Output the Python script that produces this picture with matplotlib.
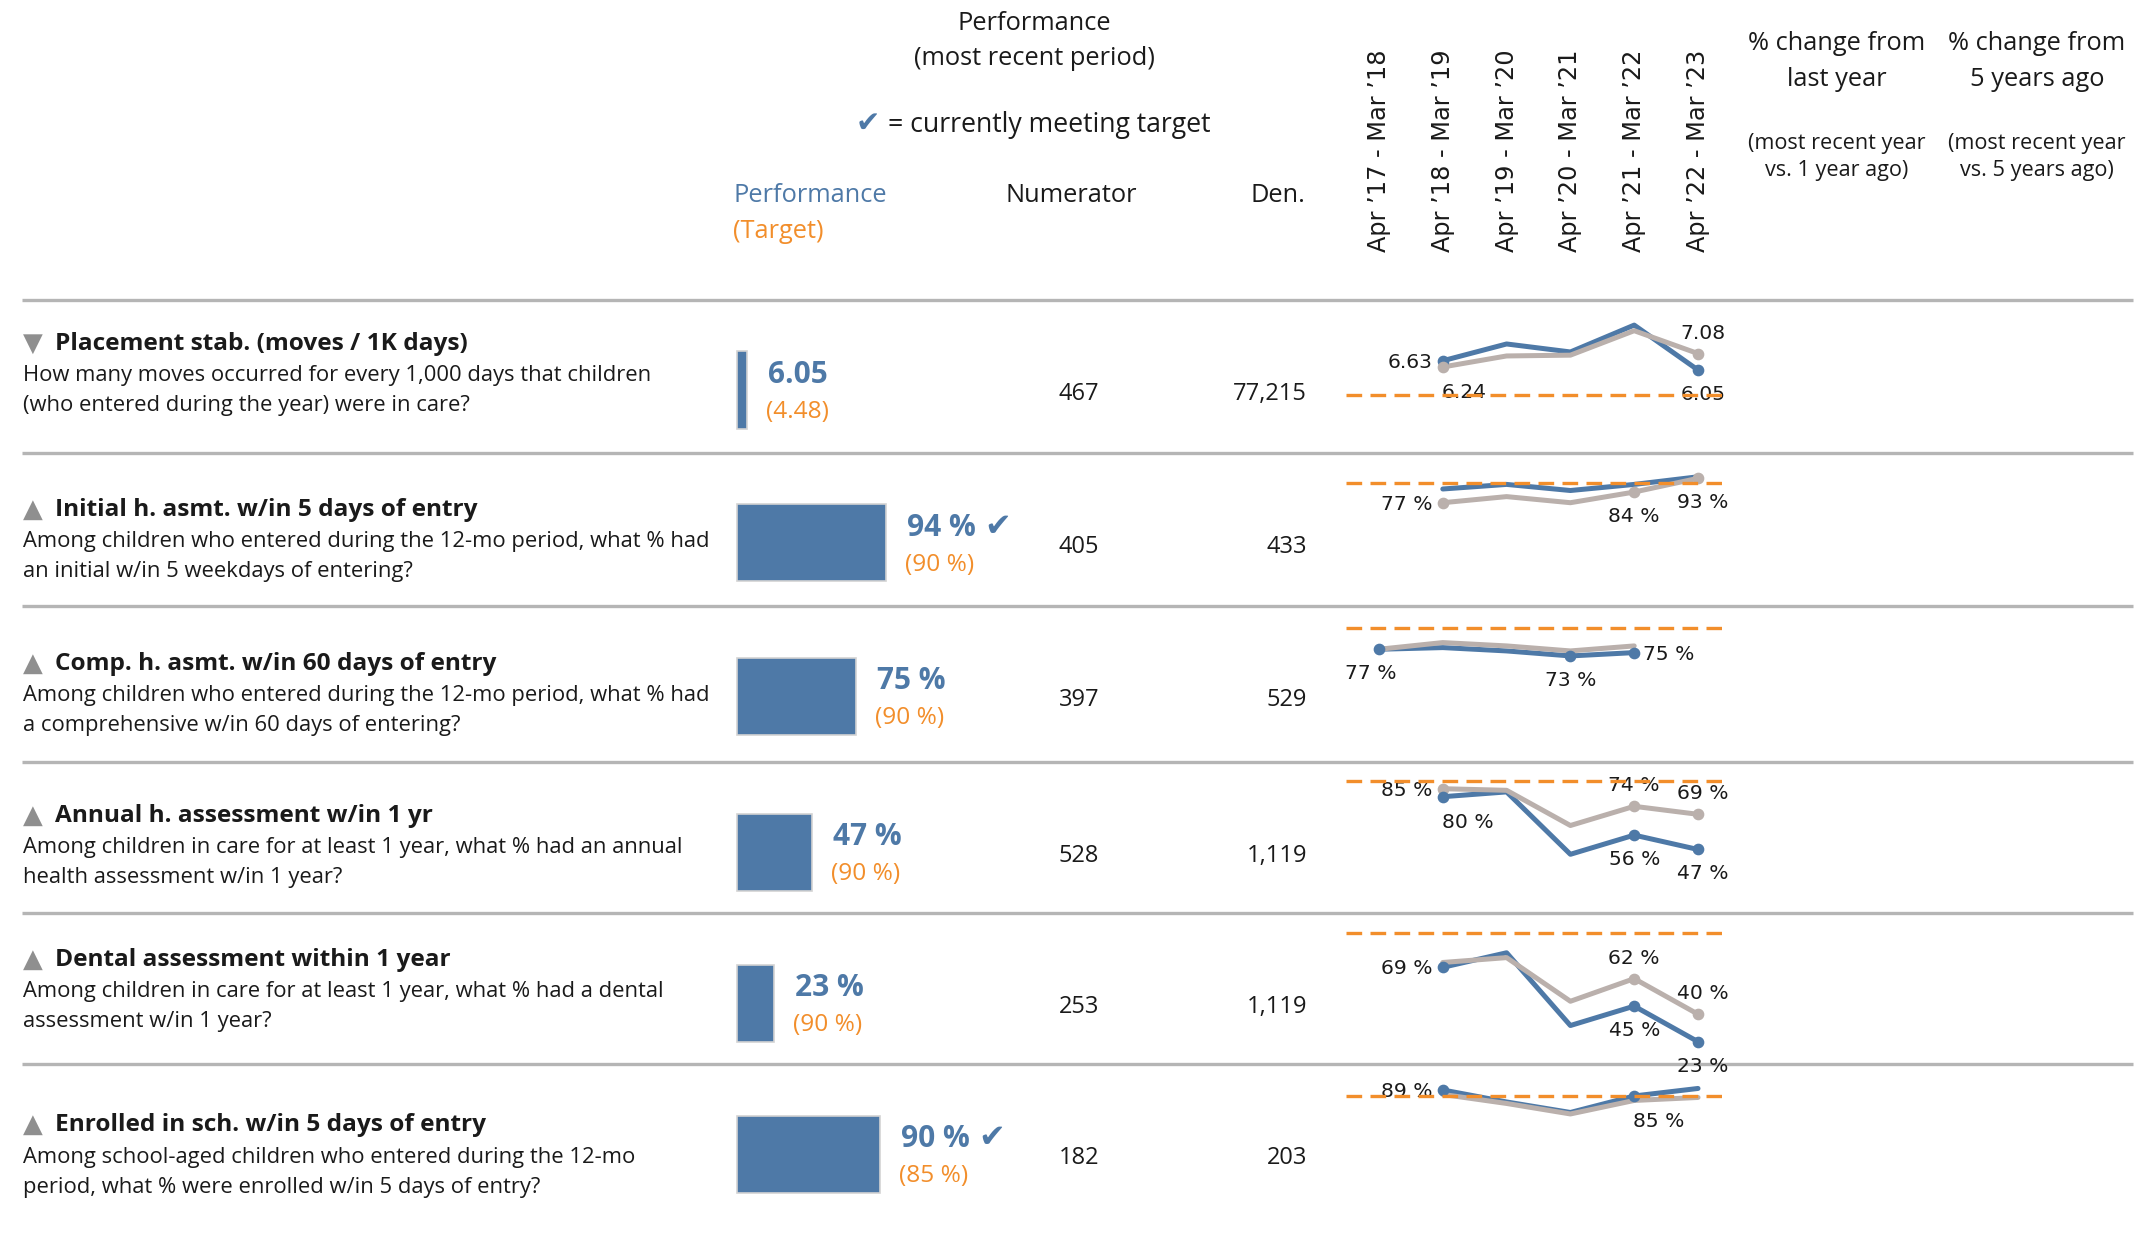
import numpy as np
import matplotlib
matplotlib.use("Agg")
import matplotlib.pyplot as plt
import matplotlib.transforms as mtransforms

# ---- data -------------------------------------------------------------
PERIODS = ["Apr \u201917 - Mar \u201918", "Apr \u201918 - Mar \u201919", "Apr \u201919 - Mar \u201920",
           "Apr \u201920 - Mar \u201921", "Apr \u201921 - Mar \u201922", "Apr \u201922 - Mar \u201923"]

TITLES = ["Placement stab. (moves / 1K days)",
          "Initial h. asmt. w/in 5 days of entry",
          "Comp. h. asmt. w/in 60 days of entry",
          "Annual h. assessment w/in 1 yr",
          "Dental assessment within 1 year",
          "Enrolled in sch. w/in 5 days of entry"]
ARROWS = ["\u25bc", "\u25b2", "\u25b2", "\u25b2", "\u25b2", "\u25b2"]
DESC_1 = ["How many moves occurred for every 1,000 days that children",
          "Among children who entered during the 12-mo period, what % had",
          "Among children who entered during the 12-mo period, what % had",
          "Among children in care for at least 1 year, what % had an annual",
          "Among children in care for at least 1 year, what % had a dental",
          "Among school-aged children who entered during the 12-mo"]
DESC_2 = ["(who entered during the year) were in care?",
          "an initial w/in 5 weekdays of entering?",
          "a comprehensive w/in 60 days of entering?",
          "health assessment w/in 1 year?",
          "assessment w/in 1 year?",
          "period, what % were enrolled w/in 5 days of entry?"]

PERFORMANCE = [6.05, 94, 75, 47, 23, 90]
TARGET = [4.48, 90, 90, 90, 90, 85]
IS_PERCENT = [False, True, True, True, True, True]
MEETS_TARGET = [False, True, False, False, False, True]
NUMERATOR = [467, 405, 397, 528, 253, 182]
DENOMINATOR = [77215, 433, 529, 1119, 1119, 203]

nan = np.nan
TREND_BLUE = [[nan, 6.63, 7.68, 7.18, 8.86, 6.05],
              [nan, 86, 89, 85, 89, 94],
              [77, 78, 76, 73, 75, nan],
              [nan, 80, 83, 44, 56, 47],
              [nan, 69, 78, 33, 45, 23],
              [nan, 89, 81, 74, 85, 90]]
TREND_GREY = [[nan, 6.24, 6.93, 6.98, 8.51, 7.08],
              [nan, 77, 81, 77, 84, 93],
              [77, 81, 79, 76, 79, nan],
              [nan, 85, 84, 62, 74, 69],
              [nan, 72, 75, 48, 62, 40],
              [nan, 86, 80, 73, 82, 84]]
# labelled points: (series, period index, placement)
TREND_LABELS = [[("b", 1, "L"), ("g", 1, "BR"), ("g", 5, "A"), ("b", 5, "B")],
                [("g", 1, "L"), ("g", 4, "B"), ("g", 5, "B")],
                [("b", 0, "B"), ("b", 3, "B"), ("b", 4, "R")],
                [("g", 1, "L"), ("b", 1, "BR"), ("g", 4, "A"), ("g", 5, "A"),
                 ("b", 4, "B"), ("b", 5, "B")],
                [("b", 1, "L"), ("g", 4, "A"), ("b", 4, "B"), ("g", 5, "A"), ("b", 5, "B")],
                [("b", 1, "L"), ("b", 4, "BR")]]

# ---- layout / style -----------------------------------------------------
W, H, DPI = 2154, 1234, 100
PT = 72 / DPI
BLUE = "#4e79a7"
GREY = "#bab0ac"
ORANGE = "#f28e2b"
SEP = "#b5b5b5"
TXT = "#1a1a1a"
ARROW_GREY = "#8f8f8f"
FONT = ["Open Sans", "DejaVu Sans"]

ROW_EDGES = [300, 453, 606, 762, 913, 1064, 1234]
TITLE_BASE = [350, 516, 670, 822, 966, 1131]
SPARK_X = (1346, 1722)
SPARK_XLIM = (-0.517, 5.376)
SPARK_YLIM = [(0.86, 10.43), (9.26, 109.6), (9.5, 102.9),
              (7.3, 101.7), (9.2, 102.6), (-7.0, 106.3)]
# offset in px (dx, dy downwards to baseline), alignment
LABEL_POS = {"L": (-10, 7, "right"), "R": (9, 7, "left"), "A": (0, -15, "center"),
             "B": (0, 30, "center"), "BR": (-1, 31, "left")}
# centred labels at the pane edges are nudged inwards/outwards like in Tableau
EDGE_NUDGE = {0: -8, 5: 5}

plt.rcParams['font.family'] = FONT

fig = plt.figure(figsize=(W / DPI, H / DPI), dpi=DPI)
canvas = fig.add_axes([0, 0, 1, 1])
canvas.set_xlim(0, W)
canvas.set_ylim(H, 0)
canvas.axis('off')


def px_axes(x0, y0, x1, y1):
    ax = fig.add_axes([x0 / W, 1 - y1 / H, (x1 - x0) / W, (y1 - y0) / H])
    ax.axis('off')
    return ax


# header
canvas.text(1034, 30, "Performance", ha='center', va='baseline', fontsize=18.3, color=TXT)
canvas.text(1034, 65, "(most recent period)", ha='center', va='baseline', fontsize=18.3, color=TXT)
canvas.text(856, 132, "\u2714", ha='left', va='baseline', fontsize=21, color=BLUE, family='DejaVu Sans')
canvas.text(888, 132, "= currently meeting target", ha='left', va='baseline', fontsize=19.2, color=TXT)
canvas.text(733, 202, "Performance", ha='left', va='baseline', fontsize=18.3, color=BLUE)
canvas.text(733, 238, "(Target)", ha='left', va='baseline', fontsize=18.3, color=ORANGE)
canvas.text(1071, 202, "Numerator", ha='center', va='baseline', fontsize=18.3, color=TXT)
canvas.text(1305, 202, "Den.", ha='right', va='baseline', fontsize=18.3, color=TXT)
for cx, l2, l4 in [(1837, "last year", "vs. 1 year ago)"), (2037, "5 years ago", "vs. 5 years ago)")]:
    canvas.text(cx, 50, "% change from", ha='center', va='baseline', fontsize=18.3, color=TXT)
    canvas.text(cx, 86, l2, ha='center', va='baseline', fontsize=18.3, color=TXT)
    canvas.text(cx, 149, "(most recent year", ha='center', va='baseline', fontsize=15.6, color=TXT)
    canvas.text(cx, 176, l4, ha='center', va='baseline', fontsize=15.6, color=TXT)

canvas.hlines(ROW_EDGES[:-1], 22, 2133, color=SEP, lw=2.4)

spark_axes = []
for i in range(len(TITLES)):
    top, bottom = ROW_EDGES[i], ROW_EDGES[i + 1]
    tb = TITLE_BASE[i]

    # row text
    canvas.text(33, tb + 1, ARROWS[i], ha='center', va='baseline', fontsize=18.5,
                color=ARROW_GREY, family='DejaVu Sans')
    canvas.text(55, tb, TITLES[i], ha='left', va='baseline', fontsize=17.6,
                fontweight='bold', color=TXT)
    canvas.text(23, tb + 31.5, DESC_1[i], ha='left', va='baseline', fontsize=15.8, color=TXT)
    canvas.text(23, tb + 61.5, DESC_2[i], ha='left', va='baseline', fontsize=15.8, color=TXT)

    # performance bar
    bc = top + 90
    bax = px_axes(737, bc - 38.5, 737 + 159, bc + 38.5)
    bax.set_xlim(0, 100)
    bax.set_ylim(-0.5, 0.5)
    perf = PERFORMANCE[i]
    bax.barh(0, perf, height=1.0, color=BLUE, edgecolor="#d3d3d3", linewidth=1.2, clip_on=False)
    fmt = "{:.0f} %" if IS_PERCENT[i] else "{:.2f}"
    bax.annotate(fmt.format(perf), xy=(perf, 0), xytext=(21 * PT, 7 * PT),
                 textcoords='offset points', ha='left', va='baseline', fontsize=21.5,
                 fontweight='bold', color=BLUE, annotation_clip=False)
    if MEETS_TARGET[i]:
        # check mark follows the value label
        bax.annotate("\u2714", xy=(perf, 0), xytext=(98 * PT, 7 * PT),
                     textcoords='offset points', ha='left', va='baseline', fontsize=23,
                     color=BLUE, family='DejaVu Sans', annotation_clip=False)
    bax.annotate("(" + fmt.format(TARGET[i]) + ")", xy=(perf, 0), xytext=(19 * PT, -28 * PT),
                 textcoords='offset points', ha='left', va='baseline', fontsize=17.6, color=ORANGE,
                 annotation_clip=False)

    canvas.text(1079, bc + 10, "{:,}".format(NUMERATOR[i]), ha='center', va='baseline',
                fontsize=17, color=TXT)
    canvas.text(1307, bc + 10, "{:,}".format(DENOMINATOR[i]), ha='right', va='baseline',
                fontsize=17, color=TXT)

    # trend sparkline
    sax = px_axes(SPARK_X[0], top, SPARK_X[1], bottom)
    sax.set_xlim(*SPARK_XLIM)
    sax.set_ylim(*SPARK_YLIM[i])
    spark_axes.append(sax)
    x = np.arange(len(PERIODS))
    sax.plot(x, TREND_BLUE[i], color=BLUE, lw=3.6, solid_capstyle='round',
             solid_joinstyle='round', zorder=3, clip_on=False)
    sax.plot(x, TREND_GREY[i], color=GREY, lw=3.6, solid_capstyle='round',
             solid_joinstyle='round', zorder=4, clip_on=False)
    sax.axhline(TARGET[i], color=ORANGE, lw=2.4, dashes=(4.7, 2.5), zorder=7)

    for series, idx, pos in TREND_LABELS[i]:
        vals = TREND_BLUE[i] if series == "b" else TREND_GREY[i]
        color = BLUE if series == "b" else GREY
        v = vals[idx]
        sax.plot(idx, v, 'o', ms=7.4, color=color, zorder=5, clip_on=False)
        dx, dy, ha = LABEL_POS[pos]
        if ha == "center":
            dx += EDGE_NUDGE.get(idx, 0)
        sax.annotate(fmt.format(v), xy=(idx, v), xytext=(dx * PT, -dy * PT),
                     textcoords='offset points', ha=ha, va='baseline', fontsize=14.6,
                     family='DejaVu Sans', color=TXT, annotation_clip=False, zorder=6)

# rotated period labels aligned with the sparkline x scale
trans = mtransforms.blended_transform_factory(spark_axes[0].transData, canvas.transData)
for j, p in enumerate(PERIODS):
    canvas.text(j, 252, p, transform=trans, rotation=90, ha='center', va='bottom',
                fontsize=17.3, family='DejaVu Sans', color=TXT)

fig.savefig("out.png", dpi=DPI)
